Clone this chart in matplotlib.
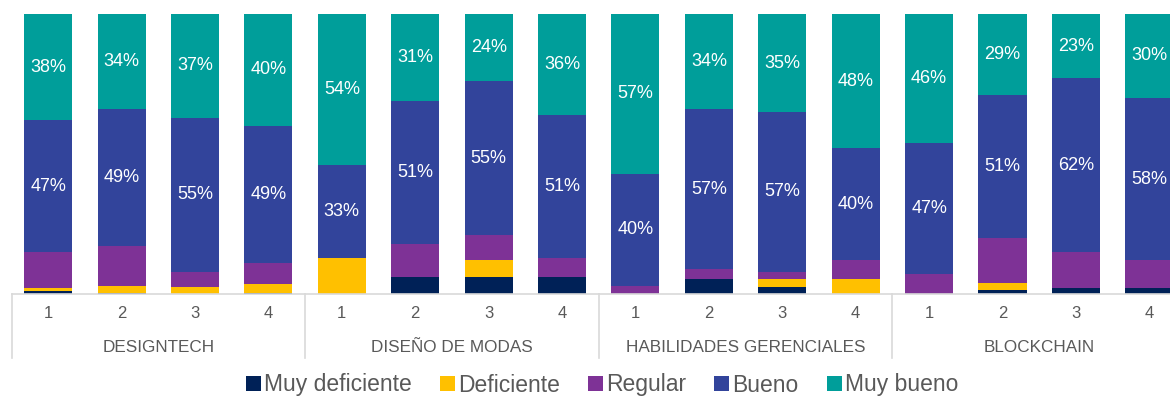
import matplotlib
matplotlib.use("Agg")
import matplotlib.pyplot as plt
import matplotlib.transforms as mtransforms
import numpy as np

plt.rcParams["font.family"] = ["Liberation Sans", "DejaVu Sans"]

groups = ["DESIGNTECH", "DISEÑO DE MODAS", "HABILIDADES GERENCIALES", "BLOCKCHAIN"]
periods = ["1", "2", "3", "4"]

series_names = ["Muy deficiente", "Deficiente", "Regular", "Bueno", "Muy bueno"]
colors = ["#002157", "#FFC000", "#7E3296", "#32449B", "#009E9A"]

muy_deficiente = [1, 0.5, 0, 0.5,   0, 6, 6, 6,    0, 5.5, 2.5, 0,    0, 1.5, 2, 2]
deficiente     = [1, 2.5, 2.5, 3,   13, 0, 6, 0,   0, 0, 3, 5.5,      0, 2.5, 0, 0]
regular        = [13, 14, 5.5, 7.5, 0, 12, 9, 7,   3, 3.5, 2.5, 6.5,  7, 16, 13, 10]
bueno          = [47, 49, 55, 49,   33, 51, 55, 51, 40, 57, 57, 40,   47, 51, 62, 58]
muy_bueno      = [38, 34, 37, 40,   54, 31, 24, 36, 57, 34, 35, 48,   46, 29, 23, 30]

series = [muy_deficiente, deficiente, regular, bueno, muy_bueno]
labeled = {3, 4}

W, H = 1170, 396
fig = plt.figure(figsize=(W / 100, H / 100), dpi=100)
left_px, right_px, top_px, bottom_px = 11.5, 1186.0, 14.0, 294.0
ax = fig.add_axes([left_px / W, 1 - bottom_px / H,
                   (right_px - left_px) / W, (bottom_px - top_px) / H])

n = len(muy_bueno)
x = np.arange(n)
bottom = np.zeros(n)
for i, (name, vals, col) in enumerate(zip(series_names, series, colors)):
    vals = np.array(vals, dtype=float)
    ax.bar(x, vals, width=0.655, bottom=bottom, color=col, label=name,
           linewidth=0)
    if i in labeled:
        for xi, b, v in zip(x, bottom, vals):
            ax.text(xi, b + v / 2, f"{v:.0f}%", ha="center", va="center",
                    color="white", fontsize=13)
    bottom += vals

ax.set_xlim(-0.5, n - 0.5)
ax.set_ylim(0, 100)
for s in ax.spines.values():
    s.set_visible(False)
ax.set_xticks([])
ax.set_yticks([])

# category axis: baseline, period ticks, group labels and separators
axis_col = "#D9D9D9"
text_col = "#595959"
trans = mtransforms.blended_transform_factory(ax.transData, ax.transAxes)
px = 1.0 / (bottom_px - top_px)
ax.plot([-0.5, n - 0.5], [0, 0], color=axis_col, lw=1.2, transform=trans,
        clip_on=False)
for xi in x:
    ax.text(xi, -(313 - bottom_px) * px, periods[xi % 4], transform=trans,
            ha="center", va="center", fontsize=12, color=text_col)
for g, name in enumerate(groups):
    ax.text(g * 4 + 1.5, -(347 - bottom_px) * px, name, transform=trans,
            ha="center", va="center", fontsize=12.3, color=text_col)
for g in range(len(groups) + 1):
    xs = g * 4 - 0.5
    ax.plot([xs, xs], [0, -(358 - bottom_px) * px], color=axis_col, lw=1.2,
            transform=trans, clip_on=False)

fig.legend(loc="center", bbox_to_anchor=(602 / W, 1 - 385 / H), ncol=5,
           frameon=False, fontsize=16.5, handlelength=0.66, handleheight=0.62,
           handletextpad=0.14, columnspacing=1.22, labelcolor=text_col)

fig.savefig("out.png", dpi=100, facecolor="white")
